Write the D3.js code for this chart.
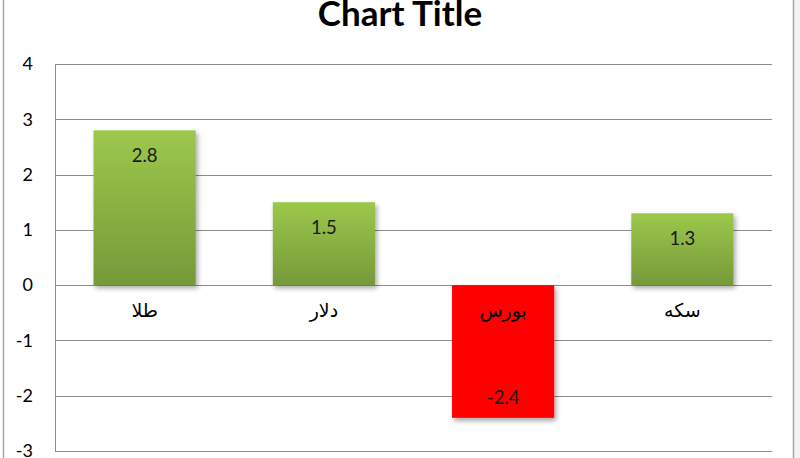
<!DOCTYPE html>
<html><head><meta charset="utf-8">
<script src="https://cdn.jsdelivr.net/npm/d3@7"></script>
<style>body{margin:0;background:#fff;}svg{display:block;}</style>
</head><body>
<script>
const categories = ["طلا", "دلار", "بورس", "سکه"];
const values = [2.8, 1.5, -2.4, 1.3];
const yTicks = [-3, -2, -1, 0, 1, 2, 3, 4];
const title = "Chart Title";

(function () {
const W = 800, H = 458;
const svg = d3.select("body").append("svg").attr("width", W).attr("height", H);

svg.append("rect").attr("x", 794).attr("y", 0).attr("width", 6).attr("height", H).attr("fill", "#f4f4f4");
svg.append("line").attr("x1", 3.5).attr("x2", 3.5).attr("y1", 0).attr("y2", H).attr("stroke", "#a6a6a6").attr("stroke-width", 1.5);
svg.append("line").attr("x1", 793.5).attr("x2", 793.5).attr("y1", 0).attr("y2", H).attr("stroke", "#a6a6a6").attr("stroke-width", 1.5);

const defs = svg.append("defs");
const g1 = defs.append("linearGradient").attr("id", "grn").attr("x1", 0).attr("y1", 0).attr("x2", 0).attr("y2", 1);
g1.append("stop").attr("offset", "0%").attr("stop-color", "#9cc84b");
g1.append("stop").attr("offset", "100%").attr("stop-color", "#76993a");
const f = defs.append("filter").attr("id", "sh").attr("x", "-20%").attr("y", "-20%").attr("width", "140%").attr("height", "140%");
f.append("feDropShadow").attr("dx", 2).attr("dy", 3).attr("stdDeviation", 2.5).attr("flood-color", "#000").attr("flood-opacity", 0.35);

const pL = 55, pR = 772, pT = 64, pB = 451;
const x = d3.scaleBand().domain(categories).range([pL, pR]).paddingInner(0.43).paddingOuter(0.215);
const y = d3.scaleLinear().domain([-3, 4]).range([pB, pT]);

const font = "Lato, 'Open Sans', sans-serif";

svg.append("g").selectAll("line").data(yTicks).join("line")
  .attr("x1", pL).attr("x2", pR)
  .attr("y1", d => Math.round(y(d)) + 0.5).attr("y2", d => Math.round(y(d)) + 0.5)
  .attr("stroke", "#8c8c8c").attr("stroke-width", 1);
svg.append("line").attr("x1", pL + 0.5).attr("x2", pL + 0.5).attr("y1", y(4)).attr("y2", y(-3)).attr("stroke", "#8c8c8c");

const yAxis = d3.axisLeft(y).tickValues(yTicks).tickSize(0).tickPadding(22).tickFormat(d => String(d));
const ya = svg.append("g").attr("transform", `translate(${pL},0)`).call(yAxis);
ya.select(".domain").remove();
ya.selectAll("text").attr("font-family", font).attr("font-size", 18).attr("fill", "#000");

svg.append("g").selectAll("rect").data(values).join("rect")
  .attr("x", (d, i) => x(categories[i]))
  .attr("width", x.bandwidth())
  .attr("y", d => y(Math.max(0, d)))
  .attr("height", d => Math.abs(y(d) - y(0)))
  .attr("fill", d => d >= 0 ? "url(#grn)" : "#ff0000")
  .attr("filter", "url(#sh)");

svg.append("g").selectAll("text").data(values).join("text")
  .attr("x", (d, i) => x(categories[i]) + x.bandwidth() / 2)
  .attr("y", d => d >= 0 ? y(d) + 32 : y(d) - 14)
  .attr("text-anchor", "middle")
  .attr("font-family", font).attr("font-size", 18.5).attr("fill", "#1a1a1a")
  .text(d => String(d));

svg.append("g").selectAll("text").data(categories).join("text")
  .attr("x", d => x(d) + x.bandwidth() / 2)
  .attr("y", y(0) + 32)
  .attr("text-anchor", "middle")
  .attr("font-family", "'DejaVu Sans', 'Noto Sans', sans-serif").attr("font-size", 19).attr("fill", "#000")
  .text(d => d);

svg.append("text").attr("x", 400).attr("y", 26).attr("text-anchor", "middle")
  .attr("font-family", font).attr("font-weight", "bold").attr("font-size", 35).attr("fill", "#000")
  .text(title);
})();
</script>
</body></html>
